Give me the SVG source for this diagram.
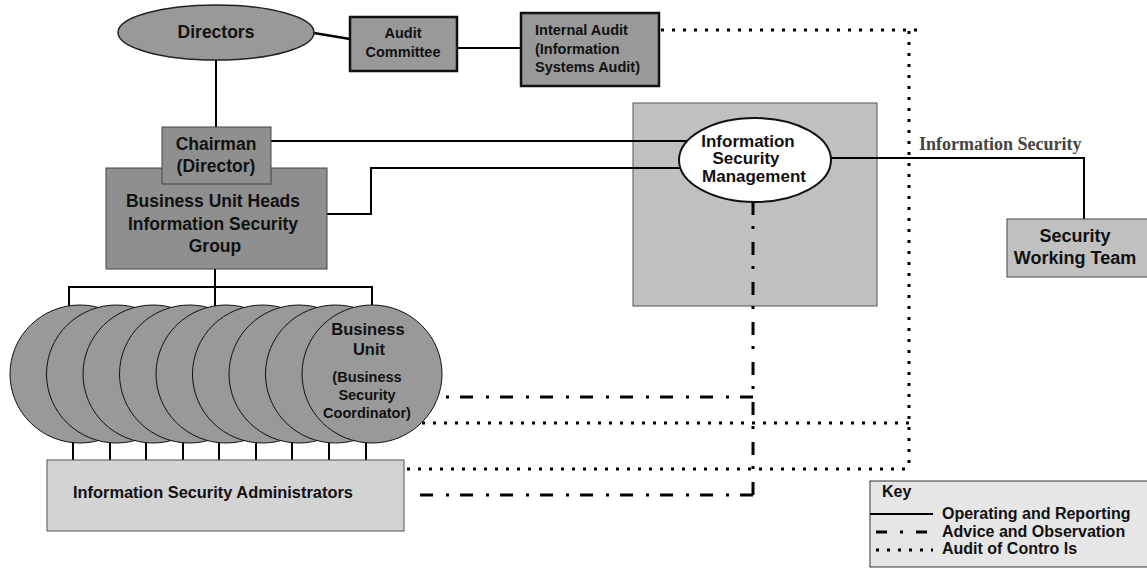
<svg xmlns="http://www.w3.org/2000/svg" width="1147" height="568" viewBox="0 0 1147 568">
<style>
text{font-family:"Liberation Sans",Arial,sans-serif;font-weight:bold;fill:#111}
.c{text-anchor:middle}
.big{font-size:17.5px}
.sm{font-size:14.5px}
.solid{fill:none;stroke:#000;stroke-width:2}
.dd{fill:none;stroke:#000;stroke-width:3;stroke-dasharray:13 11 3 13}
.dot{fill:none;stroke:#000;stroke-width:3;stroke-dasharray:3 8}
.dk{fill:#999;stroke:#222;stroke-width:1.5}
.thick{fill:#999;stroke:#111;stroke-width:2.5}
.mid{fill:#8f8f8f;stroke:#444;stroke-width:1}
.circ{fill:#999;stroke:#111;stroke-width:1}
</style>
<rect width="1147" height="568" fill="#fff"/>
<g id="ism-area">
<rect x="633" y="103" width="244" height="203" fill="#c0c0c0" stroke="#555" stroke-width="1"/>
</g>
<g id="connectors">
<line class="solid" x1="314" y1="33" x2="350" y2="39" style="stroke-width:2.5"/>
<line class="solid" x1="457" y1="48" x2="521" y2="48"/>
<line class="solid" x1="216" y1="60" x2="216" y2="127"/>
<line class="solid" x1="271" y1="141" x2="692" y2="141"/>
<polyline class="solid" points="327,214 371,214 371,168 682,168"/>
<polyline class="solid" points="831,158 1084,158 1084,219"/>
<line class="solid" x1="215" y1="269" x2="215" y2="306"/>
<polyline class="solid" points="69,306 69,287 372,287 372,306"/>
<g class="solid">
<line x1="73" y1="440" x2="73" y2="460"/>
<line x1="110" y1="440" x2="110" y2="460"/>
<line x1="146" y1="440" x2="146" y2="460"/>
<line x1="183" y1="440" x2="183" y2="460"/>
<line x1="219" y1="440" x2="219" y2="460"/>
<line x1="256" y1="440" x2="256" y2="460"/>
<line x1="292" y1="440" x2="292" y2="460"/>
<line x1="329" y1="440" x2="329" y2="460"/>
<line x1="366" y1="440" x2="366" y2="460"/>
</g>
<polyline class="dot" points="661,30 918,30"/>
<line class="dot" x1="909" y1="31" x2="909" y2="469"/>
<line class="dot" x1="422" y1="423" x2="909" y2="423"/>
<line class="dot" x1="407" y1="469" x2="909" y2="469"/>
<line class="dd" x1="753" y1="202" x2="753" y2="495"/>
<line class="dd" x1="753" y1="495" x2="412" y2="495"/>
<line class="dd" x1="753" y1="397" x2="440" y2="397"/>
</g>
<g id="directors">
<ellipse cx="216" cy="32.5" rx="98" ry="27.5" class="dk"/>
<text x="216" y="38" class="c big">Directors</text>
</g>
<g id="audit-committee">
<rect x="350" y="17" width="107" height="54" class="thick"/>
<text x="403" y="38" class="c sm">Audit</text>
<text x="403" y="57" class="c sm">Committee</text>
</g>
<g id="internal-audit">
<rect x="521" y="13" width="138" height="73" class="thick"/>
<text x="535" y="35" class="sm">Internal Audit</text>
<text x="535" y="54" class="sm">(Information</text>
<text x="535" y="72" class="sm">Systems Audit)</text>
</g>
<g id="bu-heads">
<rect x="106" y="168" width="221" height="101" class="mid"/>
<text x="213" y="207" class="c big">Business Unit Heads</text>
<text x="213" y="230" class="c big">Information Security</text>
<text x="215" y="252" class="c big">Group</text>
</g>
<g id="chairman">
<rect x="162" y="127" width="109" height="57" class="mid"/>
<text x="216" y="150" class="c big">Chairman</text>
<text x="216" y="172" class="c big">(Director)</text>
</g>
<g id="ism">
<ellipse cx="755" cy="160" rx="76" ry="42" fill="#fff" stroke="#111" stroke-width="2"/>
<text x="748" y="147" class="c" style="font-size:17px">Information</text>
<text x="746" y="164" class="c" style="font-size:17px">Security</text>
<text x="754" y="182" class="c" style="font-size:17px">Management</text>
</g>
<g id="info-sec-label">
<text x="919" y="150" style="font-family:'Liberation Serif','Times New Roman',serif;font-size:18px;fill:#444">Information Security</text>
</g>
<g id="security-working-team">
<rect x="1007" y="219" width="145" height="58" fill="#c0c0c0" stroke="#444" stroke-width="1"/>
<text x="1075" y="242" class="c" style="font-size:18px">Security</text>
<text x="1075" y="264" class="c" style="font-size:18px">Working Team</text>
</g>
<g id="business-units">
<ellipse cx="80" cy="374" rx="70" ry="69" class="circ"/>
<ellipse cx="116.5" cy="374" rx="70" ry="69" class="circ"/>
<ellipse cx="153" cy="374" rx="70" ry="69" class="circ"/>
<ellipse cx="189.5" cy="374" rx="70" ry="69" class="circ"/>
<ellipse cx="226" cy="374" rx="70" ry="69" class="circ"/>
<ellipse cx="262.5" cy="374" rx="70" ry="69" class="circ"/>
<ellipse cx="299" cy="374" rx="70" ry="69" class="circ"/>
<ellipse cx="335.5" cy="374" rx="70" ry="69" class="circ"/>
<ellipse cx="372" cy="374" rx="70" ry="69" class="circ"/>
<text x="368" y="335" class="c" style="font-size:16.5px">Business</text>
<text x="369" y="355" class="c" style="font-size:16.5px">Unit</text>
<text x="367" y="382" class="c sm">(Business</text>
<text x="367" y="400" class="c sm">Security</text>
<text x="367" y="418" class="c sm">Coordinator)</text>
</g>
<g id="admins">
<rect x="47" y="460" width="357" height="71" fill="#d3d3d3" stroke="#555" stroke-width="1"/>
<text x="73" y="498" style="font-size:16.4px">Information Security Administrators</text>
</g>
<g id="key">
<rect x="870" y="481" width="290" height="86" fill="#e6e6e6" stroke="#333" stroke-width="1"/>
<text x="882" y="497" style="font-size:16px">Key</text>
<line class="solid" x1="870" y1="514" x2="933" y2="514"/>
<line class="dd" x1="876" y1="532" x2="933" y2="532" style="stroke-dasharray:11 13 3 13"/>
<line class="dot" x1="876" y1="550" x2="933" y2="550"/>
<text x="942" y="519" style="font-size:16px">Operating and Reporting</text>
<text x="942" y="537" style="font-size:16px">Advice and Observation</text>
<text x="942" y="554" style="font-size:16px">Audit of Contro ls</text>
</g>
</svg>
